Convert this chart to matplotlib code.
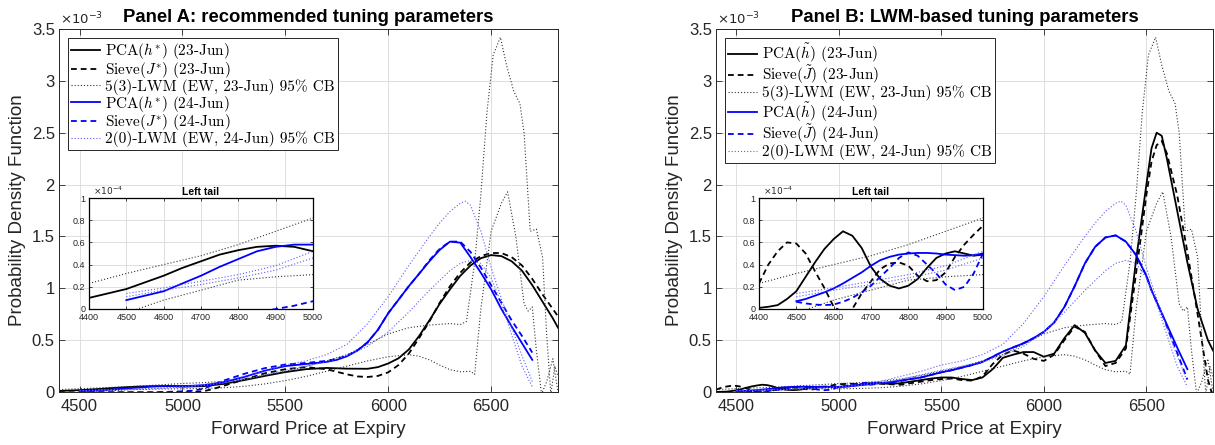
import numpy as np
import matplotlib
matplotlib.use("Agg")
import matplotlib.pyplot as plt
from matplotlib.font_manager import FontProperties

nan = np.nan

# densities are in units of 1e-3 (insets show them in units of 1e-4)

# ---- Panel A: recommended tuning parameters
PCA_A23_X = [4400, 4450, 4500, 4550, 4600, 4650, 4700, 4750, 4800, 4850, 4900, 4950, 5000,
             5100, 5200, 5300, 5400, 5500, 5600, 5700, 5800, 5900,
             5950, 6000, 6050, 6100, 6150, 6200, 6250, 6300, 6350, 6400, 6450, 6500, 6550,
             6600, 6650, 6700, 6750, 6800, 6825]
PCA_A23_Y = [.010, .014, .018, .024, .030, .037, .043, .049, .053, .056, .057, .056, .052,
             .056, .078, .115, .155, .192, .220, .232, .225, .224,
             .240, .275, .325, .41, .54, .69, .85, .99, 1.12, 1.22, 1.29, 1.32, 1.31,
             1.26, 1.17, 1.03, .87, .71, .62]

SIEVE_A23_X = [4400, 4700, 5000, 5050, 5100, 5150, 5200,
               5300, 5400, 5500, 5600, 5700, 5800,
               5850, 5900, 5950, 6000, 6050, 6100, 6150, 6200, 6250, 6300, 6350, 6400, 6450,
               6500, 6550, 6600, 6650, 6700, 6750, 6800, 6825]
SIEVE_A23_Y = [-.003, -.003, -.003, .000, .006, .03, .06,
               .12, .18, .22, .24, .22, .17,
               .15, .145, .155, .19, .26, .37, .52, .68, .86, 1.02, 1.15, 1.25, 1.31,
               1.34, 1.34, 1.30, 1.22, 1.09, .94, .80, .73]

PCA_A24_X = [4500, 4550, 4600, 4650, 4700, 4750, 4800, 4850, 4900, 4950, 5000, 5050, 5100, 5150, 5200,
             5300, 5400, 5500, 5600, 5700,
             5750, 5800, 5850, 5900, 5950, 6000, 6050, 6100, 6150, 6200, 6250, 6300, 6350, 6400,
             6450, 6500, 6550, 6600, 6650, 6700]
PCA_A24_Y = [.008, .012, .016, .023, .030, .038, .045, .052, .056, .058, .058, .060, .066, .078, .095,
             .145, .205, .25, .27, .29,
             .31, .345, .40, .48, .60, .76, .89, 1.02, 1.14, 1.26, 1.37, 1.45, 1.44, 1.30,
             1.15, .99, .80, .63, .47, .31]

SIEVE_A24_X = [4500, 4850, 4900, 4950, 5000, 5050, 5100, 5150, 5200,
               5300, 5400, 5500, 5600, 5700,
               5750, 5800, 5850, 5900, 5950, 6000, 6050, 6100, 6150, 6200, 6250, 6300, 6350, 6400,
               6450, 6500, 6550, 6600, 6650, 6700]
SIEVE_A24_Y = [-.003, -.003, .000, .003, .007, .013, .03, .07, .11,
               .175, .23, .265, .28, .30,
               .32, .35, .40, .48, .60, .76, .89, 1.02, 1.14, 1.27, 1.38, 1.45, 1.45, 1.35,
               1.20, 1.03, .86, .69, .54, .38]

# ---- LWM 95% confidence bands (same in both panels)
LWM23_HI_X = [4400, 4500, 4600, 4700, 4800, 4900, 5000, 5100, 5200, 5300, 5400, 5500, 5600, 5700,
              5800, 5900, 6000, 6100, 6200, 6300,
              6350, 6380, 6420, 6450, 6480, 6510, 6545, 6575, 6610, 6640, 6660, 6690, 6720, 6750,
              6770, 6790, 6810, 6825]
LWM23_HI_Y = [.023, .032, .040, .048, .058, .070, .082, .090, .103, .125, .16, .20, .245, .30,
              .36, .46, .56, .62, .645, .66,
              .65, .68, 1.25, 1.90, 2.70, 3.25, 3.42, 3.15, 2.90, 2.78, 2.50, 1.55, 1.57, 1.30,
              .55, -.02, .25, .15]

LWM23_LO_X = [4400, 4500, 4530,
              4600, 4700, 4800, 4900, 5000, 5100, 5200, 5300, 5400, 5500, 5600, 5700, 5800, 5900,
              6000, 6100,
              6150, 6200, 6250, 6300, 6350, 6400, 6420, 6450, 6500, 6550, 6580, 6620, 6660, 6680,
              6700, 6720, 6745, 6770, 6800, 6825]
LWM23_LO_Y = [-.015, -.004, .000,
              .008, .017, .026, .029, .031, .034, .041, .055, .078, .11, .15, .20, .25, .30,
              .34, .36,
              .345, .31, .26, .215, .195, .20, .17, .80, 1.55, 1.82, 1.93, 1.50, .85, .78,
              .82, .40, -.02, .10, .32, .0]

LWM24_HI_X = [4500, 4600, 4700, 4800, 4900, 5000, 5100, 5200, 5300, 5400, 5500, 5600, 5700, 5800,
              5900, 6000, 6100, 6200, 6250, 6300, 6350, 6375, 6400, 6450, 6500, 6550, 6600, 6650,
              6700]
LWM24_HI_Y = [.014, .019, .025, .031, .039, .052, .07, .10, .15, .20, .26, .30, .36, .46,
              .66, .92, 1.22, 1.50, 1.63, 1.74, 1.82, 1.84, 1.80, 1.55, 1.20, .90, .62, .35,
              .10]

LWM24_LO_X = [4500, 4600, 4700, 4800, 4900, 5000, 5100, 5200, 5300, 5400, 5500, 5600, 5700, 5800,
              5900, 6000, 6100, 6200, 6300, 6350, 6400, 6450, 6500, 6550, 6600, 6650, 6700]
LWM24_LO_Y = [.011, .017, .022, .028, .035, .046, .06, .085, .12, .165, .21, .25, .29, .35,
              .44, .58, .77, .98, 1.17, 1.24, 1.27, 1.24, 1.10, .85, .55, .25, .05]

# ---- Panel B: LWM-based tuning parameters (common price grid)
PRICE_B = np.r_[np.arange(4400, 5001, 25), np.arange(5050, 6501, 50),
                [6525, 6550, 6575, 6600, 6650, 6700, 6750, 6800, 6825]]

PCA_B23 = [.001, .002, .0035, .009, .016, .029, .042, .054, .063, .070, .066, .055, .038,
           .027, .021, .0185, .021, .027, .037, .046, .050, .052, .050, .048, .049,
           .055, .07, .085, .085, .078, .085, .10, .115, .13, .14, .14, .125, .115, .14, .22,
           .33, .36, .385, .385, .34, .37, .52, .645, .57, .40, .28, .30, .45, 1.28, 2.00,
           2.35, 2.50, 2.47, 2.25, 1.75, 1.25, .80, .50, .40]

SIEVE_B23 = [.023, .040, .052, .060, .059, .050, .034, .019, .002, -.003, .000, .014, .025,
             .036, .041, .042, .039, .030, .025, .026, .033, .047, .058, .067, .075,
             .08, .075, .07, .08, .075, .07, .085, .10, .115, .125, .13, .115, .11, .15, .27,
             .36, .40, .37, .32, .30, .36, .50, .63, .58, .40, .25, .28, .42, 1.15, 1.90,
             2.22, 2.38, 2.42, 2.30, 1.90, 1.35, .75, .12, -.05]

PCA_B24 = [nan, nan, nan, nan, .007, .009, .012, .015, .0185, .023, .028, .033, .039,
           .044, .047, .049, .050, .0505, .0505, .050, .049, .0485, .048, .0485, .050,
           .055, .065, .075, .085, .095, .11, .125, .14, .165, .19, .21, .235, .26, .29, .34,
           .39, .43, .47, .52, .58, .67, .82, 1.02, 1.24, 1.40, 1.49, 1.51, 1.45, 1.32, 1.12,
           .98, .87, .76, .65, .43, .22, nan, nan, nan]

SIEVE_B24 = [nan, nan, nan, nan, .0065, .005, .004, .0035, .004, .0065, .010, .015, .021,
             .029, .037, .046, .051, .048, .040, .032, .022, .017, .020, .032, .050,
             .065, .085, .09, .085, .09, .105, .125, .14, .165, .19, .21, .235, .26, .29, .34,
             .39, .43, .47, .52, .58, .67, .82, 1.02, 1.24, 1.40, 1.49, 1.51, 1.45, 1.32, 1.12,
             .98, .87, .76, .63, .38, .12, nan, nan, nan]

LABELS_A = [r"PCA($h^{*}$) (23-Jun)", r"Sieve($J^{*}$) (23-Jun)",
            "5(3)-LWM (EW, 23-Jun) 95% CB",
            r"PCA($h^{*}$) (24-Jun)", r"Sieve($J^{*}$) (24-Jun)",
            "2(0)-LWM (EW, 24-Jun) 95% CB"]
LABELS_B = [r"PCA($\tilde{h}$) (23-Jun)", r"Sieve($\tilde{J}$) (23-Jun)",
            "5(3)-LWM (EW, 23-Jun) 95% CB",
            r"PCA($\tilde{h}$) (24-Jun)", r"Sieve($\tilde{J}$) (24-Jun)",
            "2(0)-LWM (EW, 24-Jun) 95% CB"]

BLUE = "#0000ff"
STYLES = {
    "k-": dict(color="k", lw=1.3, ls="-"),
    "k--": dict(color="k", lw=1.3, ls=(0, (3.2, 2.2))),
    "k:": dict(color="#333333", lw=0.8, ls=(0, (1, 1.8))),
    "b-": dict(color=BLUE, lw=1.3, ls="-"),
    "b--": dict(color=BLUE, lw=1.3, ls=(0, (3.2, 2.2))),
    "b:": dict(color="#5a5aff", lw=0.8, ls=(0, (1, 1.8))),
}
AXC = "#262626"

plt.rcParams["font.family"] = ["Liberation Sans", "DejaVu Sans"]
plt.rcParams["axes.linewidth"] = 0.7


def style_axes(ax, size, big=True):
    ax.grid(True, color="#dedede", lw=0.7)
    ax.set_axisbelow(True)
    ax.tick_params(direction="in", top=True, right=True, length=4 if big else 2.5,
                   width=0.6, labelsize=size, colors=AXC)
    if big:
        ax.tick_params(axis="x", pad=5)
        ax.tick_params(axis="y", pad=3)
    else:
        ax.tick_params(axis="x", pad=3)
        ax.tick_params(axis="y", pad=2.5)
    for s in ax.spines.values():
        s.set_color(AXC)
    ax.yaxis.set_major_formatter(plt.FormatStrFormatter("%g"))


def draw(ax, series, scale):
    handles = []
    for x, y, key in series:
        h, = ax.plot(x, np.asarray(y, dtype=float) * scale, **STYLES[key])
        handles.append(h)
    return handles


def panel(rect, inset_rect, title, labels, series):
    ax = fig.add_axes(rect)
    hs = draw(ax, series, 1.0)
    ax.set_xlim(4400, 6825)
    ax.set_ylim(0, 3.5)
    ax.set_xticks([4500, 5000, 5500, 6000, 6500])
    ax.set_yticks(np.arange(0, 3.51, 0.5))
    style_axes(ax, 12)
    ax.set_xlabel("Forward Price at Expiry", fontsize=13.5, color=AXC, labelpad=5)
    ax.set_ylabel("Probability Density Function", fontsize=13.5, color=AXC, labelpad=4)
    ax.set_title(title, fontsize=13.3, fontweight="bold", pad=5)
    ax.text(0.003, 1.004, r"$\times10^{-3}$", transform=ax.transAxes, fontsize=9.5,
            color=AXC, ha="left", va="bottom")
    # legend: one entry per estimator, the CB pair shares one entry
    pick = [hs[0], hs[1], hs[2], hs[4], hs[5], hs[6]]
    leg = ax.legend(pick, labels, loc="upper left",
                    prop=FontProperties(family="cmr10", size=11, math_fontfamily="cm"),
                    handlelength=1.9, handletextpad=0.3, labelspacing=-0.08,
                    borderpad=0.2, borderaxespad=0.6, fancybox=False, framealpha=1,
                    edgecolor=AXC)
    leg.get_frame().set_linewidth(0.7)

    ins = fig.add_axes(inset_rect)
    draw(ins, series, 10.0)
    ins.set_xlim(4400, 5000)
    ins.set_ylim(0, 1)
    ins.set_xticks(np.arange(4400, 5001, 100))
    ins.set_yticks(np.arange(0, 1.01, 0.2))
    style_axes(ins, 6.5, big=False)
    for s in ins.spines.values():
        s.set_color("k")
        s.set_linewidth(0.9)
    ins.set_title("Left tail", fontsize=7.5, fontweight="bold", pad=2)
    ins.text(0.02, 1.005, r"$\times10^{-4}$", transform=ins.transAxes, fontsize=6.5,
             color=AXC, ha="left", va="bottom")


fig = plt.figure(figsize=(12.15, 4.45), dpi=100)

series_a = [
    (PCA_A23_X, PCA_A23_Y, "k-"),
    (SIEVE_A23_X, SIEVE_A23_Y, "k--"),
    (LWM23_HI_X, LWM23_HI_Y, "k:"),
    (LWM23_LO_X, LWM23_LO_Y, "k:"),
    (PCA_A24_X, PCA_A24_Y, "b-"),
    (SIEVE_A24_X, SIEVE_A24_Y, "b--"),
    (LWM24_HI_X, LWM24_HI_Y, "b:"),
    (LWM24_LO_X, LWM24_LO_Y, "b:"),
]
series_b = [
    (PRICE_B, PCA_B23, "k-"),
    (PRICE_B, SIEVE_B23, "k--"),
    (LWM23_HI_X, LWM23_HI_Y, "k:"),
    (LWM23_LO_X, LWM23_LO_Y, "k:"),
    (PRICE_B, PCA_B24, "b-"),
    (PRICE_B, SIEVE_B24, "b--"),
    (LWM24_HI_X, LWM24_HI_Y, "b:"),
    (LWM24_LO_X, LWM24_LO_Y, "b:"),
]

panel([59 / 1215, 53 / 445, 499 / 1215, 363 / 445],
      [89 / 1215, 136 / 445, 224 / 1215, 111 / 445],
      "Panel A: recommended tuning parameters", LABELS_A, series_a)
panel([716 / 1215, 53 / 445, 497 / 1215, 363 / 445],
      [759 / 1215, 136 / 445, 224 / 1215, 111 / 445],
      "Panel B: LWM-based tuning parameters", LABELS_B, series_b)

fig.savefig("out.png", dpi=100)
